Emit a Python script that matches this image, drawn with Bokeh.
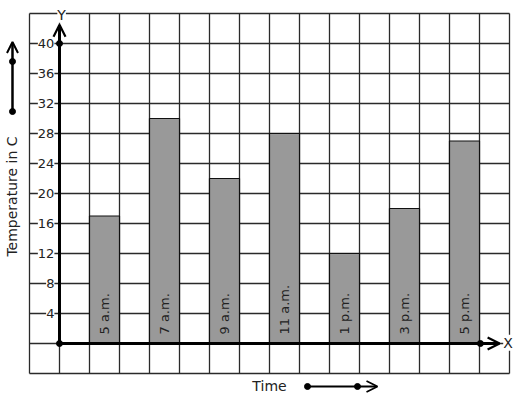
import math
from bokeh.plotting import figure
from bokeh.models import (Range1d, ColumnDataSource, LabelSet, Label, Arrow, OpenHead)
from bokeh.core.properties import value
from bokeh.embed import file_html
from bokeh.resources import INLINE

# ---- data ----
times = ["5 a.m.", "7 a.m.", "9 a.m.", "11 a.m.", "1 p.m.", "3 p.m.", "5 p.m."]
temps = [17, 30, 22, 28, 12, 18, 27]
bar_x = [1.5, 3.5, 5.5, 7.5, 9.5, 11.5, 13.5]
y_ticks = [4, 8, 12, 16, 20, 24, 28, 32, 36, 40]
y_tick_labels = [str(t) for t in y_ticks]
x_grid = list(range(-1, 16))
y_grid = list(range(-4, 45, 4))

FONT = "DejaVu Sans"
INK = "#222222"
GRID = "#2a2a2a"

p = figure(width=517, height=399, output_backend="svg", toolbar_location=None,
           x_range=Range1d(-59 / 30, 458 / 30), y_range=Range1d(-56 / 7.5, 343 / 7.5),
           x_axis_type=None, y_axis_type=None, min_border=0,
           background_fill_color="white", border_fill_color="white")
p.outline_line_color = None

# grid (bounded box)
p.segment(x0=x_grid, y0=[y_grid[0]] * len(x_grid), x1=x_grid, y1=[y_grid[-1]] * len(x_grid),
          line_color=GRID, line_width=1.3)
p.segment(x0=[x_grid[0]] * len(y_grid), y0=y_grid, x1=[x_grid[-1]] * len(y_grid), y1=y_grid,
          line_color=GRID, line_width=1.3)

# bars
src = ColumnDataSource(dict(x=bar_x, top=temps, name=times))
p.vbar(x="x", top="top", bottom=0, width=1.0, source=src,
       fill_color="#999999", line_color="#111111", line_width=1.2)

# bar labels (rotated)
src_lbl = ColumnDataSource(dict(x=bar_x, y=[1.2] * len(bar_x), name=times))
p.add_layout(LabelSet(x="x", y="y", text="name", source=src_lbl, angle=math.pi / 2,
                      text_align="left", text_baseline="middle", text_font=value(FONT),
                      text_font_size=value("13px"), text_color=INK))

# axes lines with arrows
p.add_layout(Arrow(end=OpenHead(size=12, line_width=2.2, line_color="black"),
                   x_start=0, y_start=0, x_end=0, y_end=42.5,
                   line_width=3, line_color="black"))
p.add_layout(Arrow(end=OpenHead(size=12, line_width=2.2, line_color="black"),
                   x_start=0, y_start=0, x_end=14.67, y_end=0,
                   line_width=3, line_color="black"))

# y tick labels
src_t = ColumnDataSource(dict(x=[-0.17] * len(y_ticks), y=y_ticks, t=y_tick_labels))
p.add_layout(LabelSet(x="x", y="y", text="t", source=src_t, text_align="right",
                      text_baseline="middle", text_font=value(FONT),
                      text_font_size=value("13px"),
                      text_color=INK, background_fill_color="white"))

# dots on axes
p.scatter(x=[0, 0, 14.03], y=[40, 0, 0], size=6, color="black")

# axis letters
p.add_layout(Label(x=0.07, y=44.9, text="Y", text_align="center", text_baseline="top",
                   text_font=FONT, text_font_size="14px", text_color=INK,
                   background_fill_color="white"))
p.add_layout(Label(x=14.95, y=0.1, text="X", text_align="center", text_baseline="middle",
                   text_font=FONT, text_font_size="14px", text_color=INK,
                   background_fill_color="white"))

# axis titles
p.add_layout(Label(x=-1.57, y=19.6, text="Temperature in C", angle=math.pi / 2,
                   text_align="center", text_baseline="middle", text_font=FONT,
                   text_font_size="14px", text_color=INK))
p.add_layout(Label(x=7.0, y=-5.6, text="Time", text_align="center",
                   text_baseline="middle", text_font=FONT, text_font_size="14px",
                   text_color=INK))

# decorative arrows
p.add_layout(Arrow(end=OpenHead(size=11, line_width=2, line_color="black"),
                   x_start=-1.567, y_start=30.93, x_end=-1.567, y_end=40.2,
                   line_width=2.5, line_color="black"))
p.add_layout(Arrow(end=OpenHead(size=11, line_width=1.8, line_color="black"),
                   x_start=8.267, y_start=-5.733, x_end=10.6, y_end=-5.733,
                   line_width=2, line_color="black"))
p.scatter(x=[-1.567, -1.567, 8.267, 9.933], y=[30.93, 37.6, -5.733, -5.733],
          size=6, color="black")

open("out.html", "w").write(file_html(p, INLINE))
